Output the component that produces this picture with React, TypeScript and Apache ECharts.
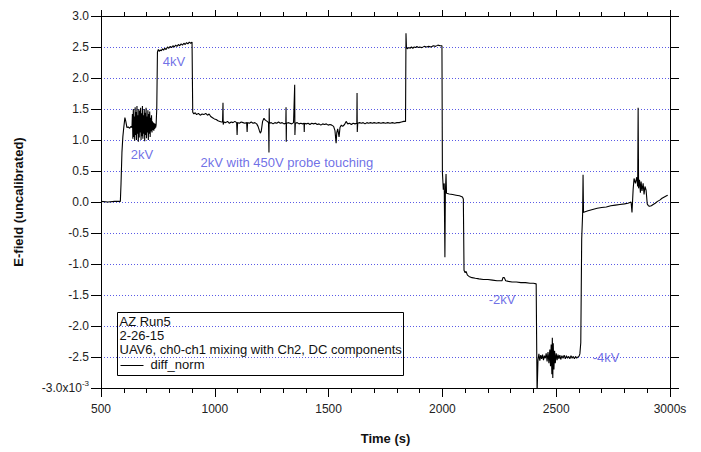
import React, { useEffect, useRef } from "react";
import * as echarts from "echarts";

// ---- Data (time in s, E-field in units of 1e-3, as shown on the axis) ----
const segBaseline: number[][] = [
  [500, 0.01], [530, 0.0], [560, 0.01], [585, 0.01], [588, 0.3], [592, 0.8], [596, 1.05],
  [600, 1.2], [605, 1.36], [609, 1.3], [614, 1.2], [620, 1.21], [626, 1.19], [632, 1.22], [636, 1.2],
];
const seg2kV: number[][] = [
  [638, 1.42], [640, 1.02], [642, 1.5], [644, 1.05], [646, 1.38], [648, 0.99], [650, 1.53], [652, 1.08],
  [654, 1.45], [656, 1.0], [658, 1.55], [660, 1.1], [662, 1.4], [664, 0.97], [666, 1.5], [668, 1.04],
  [670, 1.47], [672, 1.12], [674, 1.52], [676, 1.0], [678, 1.43], [680, 1.06], [682, 1.55], [684, 1.02],
  [686, 1.4], [688, 1.1], [690, 1.5], [692, 0.98], [694, 1.44], [696, 1.08], [698, 1.52], [700, 1.03],
  [702, 1.38], [704, 1.12], [706, 1.48], [708, 1.0], [710, 1.42], [712, 1.1], [714, 1.46], [716, 1.05],
  [718, 1.36], [720, 1.14], [722, 1.4], [724, 1.12], [726, 1.3], [728, 1.16], [730, 1.28], [732, 1.15],
  [734, 1.27], [736, 1.18], [738, 1.26], [740, 1.2], [742, 1.24],
];
const seg4kV: number[][] = [
  [745, 1.5], [748, 2.42], [752, 2.46], [756, 2.43], [760, 2.45], [765, 2.44], [770, 2.47], [775, 2.45],
  [780, 2.48], [786, 2.46], [792, 2.5], [798, 2.48], [804, 2.51], [810, 2.49], [816, 2.52], [822, 2.5],
  [828, 2.53], [834, 2.51], [840, 2.54], [846, 2.52], [852, 2.55], [858, 2.53], [864, 2.56], [870, 2.54],
  [876, 2.57], [882, 2.55], [888, 2.58], [894, 2.56], [900, 2.58],
];
const segProbe: number[][] = [
  [903, 1.45], [908, 1.42], [914, 1.44], [920, 1.41], [928, 1.43], [936, 1.4], [944, 1.42], [952, 1.41],
  [960, 1.43], [968, 1.4], [975, 1.42], [982, 1.38], [990, 1.36], [998, 1.34], [1006, 1.33], [1014, 1.31],
  [1022, 1.3], [1030, 1.29], [1034, 1.29], [1036, 1.6], [1037, 1.25], [1040, 1.29], [1048, 1.28], [1056, 1.3],
  [1064, 1.27], [1072, 1.29], [1080, 1.28], [1088, 1.3], [1096, 1.28], [1098, 1.08], [1100, 1.28], [1108, 1.27],
  [1116, 1.29], [1124, 1.28], [1132, 1.27], [1140, 1.28], [1142, 1.13], [1144, 1.28], [1152, 1.27], [1160, 1.29],
  [1168, 1.27], [1176, 1.28], [1184, 1.26], [1190, 1.22], [1196, 1.15], [1200, 1.11], [1204, 1.14], [1210, 1.3],
  [1216, 1.35], [1222, 1.32], [1230, 1.3], [1236, 1.28], [1238, 0.8], [1239, 1.51], [1240, 1.27], [1248, 1.28],
  [1256, 1.26], [1264, 1.28], [1272, 1.27], [1280, 1.29], [1288, 1.27], [1296, 1.28], [1304, 1.26], [1312, 1.27],
  [1313, 1.53], [1314, 0.97], [1315, 1.27], [1322, 1.28], [1330, 1.27], [1338, 1.26], [1346, 1.28], [1351, 1.89],
  [1352, 1.08], [1354, 1.27], [1362, 1.28], [1370, 1.26], [1378, 1.27], [1386, 1.26], [1392, 1.27], [1393, 1.13],
  [1394, 1.27], [1402, 1.26], [1410, 1.27], [1418, 1.25], [1426, 1.27], [1434, 1.26], [1442, 1.27], [1450, 1.25],
  [1458, 1.26], [1466, 1.24], [1474, 1.26], [1482, 1.25], [1490, 1.26], [1498, 1.24], [1506, 1.25], [1514, 1.24],
  [1522, 1.22], [1528, 1.15], [1533, 0.95], [1536, 1.12], [1540, 1.18], [1546, 1.05], [1550, 1.2], [1556, 1.24],
  [1562, 1.22], [1570, 1.25], [1577, 1.3], [1584, 1.26], [1592, 1.27], [1600, 1.25], [1608, 1.27], [1616, 1.26],
  [1624, 1.27], [1625, 1.76], [1626, 1.13], [1628, 1.27], [1636, 1.28], [1644, 1.27], [1652, 1.28], [1660, 1.26],
  [1668, 1.28], [1676, 1.27], [1684, 1.28], [1692, 1.27], [1700, 1.28], [1710, 1.27], [1720, 1.28], [1730, 1.27],
  [1740, 1.28], [1750, 1.27], [1760, 1.28], [1770, 1.27], [1780, 1.28], [1790, 1.27], [1800, 1.28], [1810, 1.28],
  [1820, 1.29], [1830, 1.3], [1838, 1.3],
];
const seg4kVb: number[][] = [
  [1840, 2.72], [1842, 2.5], [1846, 2.47], [1852, 2.49], [1858, 2.48], [1864, 2.5], [1870, 2.48], [1876, 2.5],
  [1882, 2.49], [1888, 2.51], [1894, 2.49], [1900, 2.5], [1910, 2.49], [1920, 2.51], [1930, 2.5], [1940, 2.51],
  [1950, 2.5], [1960, 2.52], [1970, 2.51], [1980, 2.53], [1990, 2.52], [1998, 2.52],
];
const segZero: number[][] = [
  [2000, 0.48], [2004, 0.2], [2008, 0.3], [2011, -0.89], [2013, 0.15], [2016, 0.45], [2018, 0.14], [2030, 0.13],
  [2045, 0.12], [2060, 0.11], [2075, 0.1], [2088, 0.08], [2092, 0.05],
];
const segMinus2kV: number[][] = [
  [2095, -1.1], [2100, -1.14], [2104, -1.12], [2110, -1.18], [2117, -1.2], [2130, -1.22], [2145, -1.23],
  [2161, -1.24], [2180, -1.25], [2200, -1.25], [2220, -1.26], [2240, -1.27], [2262, -1.27], [2266, -1.22],
  [2272, -1.22], [2278, -1.27], [2290, -1.28], [2306, -1.29], [2325, -1.29], [2345, -1.3], [2365, -1.3],
  [2385, -1.31], [2400, -1.31], [2412, -1.32],
];
const segMinus4kV: number[][] = [
  [2416, -3.1], [2420, -2.55], [2424, -2.45], [2428, -2.56], [2432, -2.47], [2436, -2.53], [2440, -2.46],
  [2444, -2.55], [2448, -2.48], [2452, -2.52], [2456, -2.44], [2460, -2.57], [2464, -2.42], [2468, -2.6],
  [2472, -2.38], [2475, -2.65], [2478, -2.3], [2481, -2.78], [2483, -2.19], [2485, -2.84], [2487, -2.28],
  [2490, -2.7], [2493, -2.4], [2496, -2.6], [2500, -2.44], [2504, -2.55], [2508, -2.46], [2512, -2.53],
  [2516, -2.47], [2520, -2.54], [2525, -2.48], [2530, -2.52], [2535, -2.47], [2540, -2.53], [2545, -2.48],
  [2550, -2.52], [2555, -2.49], [2560, -2.53], [2565, -2.48], [2570, -2.52], [2575, -2.49], [2580, -2.53],
  [2585, -2.49], [2590, -2.52], [2595, -2.5], [2600, -2.49], [2604, -2.45], [2608, -2.27],
];
const segEnd: number[][] = [
  [2612, -0.6], [2616, -0.2], [2618, 0.44], [2620, -0.17], [2624, -0.16], [2640, -0.14], [2660, -0.12],
  [2680, -0.1], [2700, -0.09], [2720, -0.08], [2740, -0.06], [2760, -0.05], [2780, -0.04], [2800, -0.03],
  [2815, -0.02], [2829, 0.0], [2833, -0.17], [2838, 0.2], [2842, 0.38], [2848, 0.3], [2854, 0.4], [2858, 0.25],
  [2860, 1.52], [2862, 0.22], [2866, 0.36], [2870, 0.15], [2873, 0.33], [2877, 0.18], [2882, 0.3], [2886, 0.12],
  [2890, 0.25], [2895, 0.19], [2900, -0.03], [2905, -0.06], [2910, -0.07], [2918, -0.06], [2926, -0.04],
  [2935, -0.02], [2945, 0.01], [2955, 0.03], [2965, 0.06], [2975, 0.08], [2985, 0.1], [2990, 0.11],
];

const annotationTimes = [821, 680, 1317, 2262, 2719];
const annotationValues = [2.27, 0.77, 0.63, -1.58, -2.5];
const annotationTexts = ["4kV", "2kV", "2kV with 450V probe touching", "-2kV", "-4kV"];

const legendLines = ["AZ Run5", "2-26-15", "UAV6, ch0-ch1 mixing with Ch2, DC components"];
const seriesName = "diff_norm";

const FONT = "'Liberation Sans', Arial, sans-serif";

export default function App() {
  const ref = useRef<HTMLDivElement>(null);
  useEffect(() => {
    if (!ref.current) return;
    const chart = echarts.init(ref.current, undefined, { renderer: "svg" });
    const trace = [
      ...segBaseline, ...seg2kV, ...seg4kV, ...segProbe, ...seg4kVb,
      ...segZero, ...segMinus2kV, ...segMinus4kV, ...segEnd,
    ];
    const xCommon = {
      type: "value" as const,
      min: 500,
      max: 3000,
      interval: 500,
      splitLine: { show: false },
      axisLine: { show: true, onZero: false, lineStyle: { color: "#000", width: 1 } },
    };
    const yCommon = {
      type: "value" as const,
      min: -3,
      max: 3,
      interval: 0.5,
      axisLine: { show: true, onZero: false, lineStyle: { color: "#000", width: 1 } },
    };
    chart.setOption({
      animation: false,
      backgroundColor: "#fff",
      grid: { left: 101, right: 31, top: 16, bottom: 64, containLabel: false },
      xAxis: [
        {
          ...xCommon,
          position: "bottom",
          name: "Time (s)",
          nameLocation: "middle",
          nameGap: 44,
          nameTextStyle: { fontFamily: FONT, fontSize: 13, fontWeight: "bold", color: "#111" },
          axisTick: { show: true, inside: false, length: 9, lineStyle: { color: "#000" } },
          minorTick: { show: true, splitNumber: 5, length: 5, lineStyle: { color: "#000" } },
          axisLabel: {
            show: true,
            margin: 15,
            fontFamily: FONT,
            fontSize: 12,
            color: "#222",
            formatter: (v: number) => (v === 3000 ? "3000s" : String(v)),
          },
        },
        {
          ...xCommon,
          position: "top",
          axisTick: { show: true, inside: false, length: 6, lineStyle: { color: "#000" } },
          minorTick: { show: true, splitNumber: 5, length: 4, lineStyle: { color: "#000" } },
          axisLabel: { show: false },
        },
      ],
      yAxis: [
        {
          ...yCommon,
          position: "left",
          name: "E-field (uncalibrated)",
          nameLocation: "middle",
          nameGap: 76,
          nameRotate: 90,
          nameTextStyle: { fontFamily: FONT, fontSize: 13, fontWeight: "bold", color: "#111" },
          axisTick: { show: true, inside: false, length: 10, lineStyle: { color: "#000" } },
          splitLine: {
            show: true,
            lineStyle: { color: "#5a5ae6", type: [1, 2], width: 1 },
          },
          axisLabel: {
            show: true,
            margin: 12,
            fontFamily: FONT,
            fontSize: 12,
            color: "#222",
            formatter: (v: number) => (v === -3 ? "{a|-3.0x10}{sup|-3}" : v.toFixed(1)),
            rich: {
              a: { fontFamily: FONT, fontSize: 12, color: "#222" },
              sup: { fontFamily: FONT, fontSize: 8, color: "#222", padding: [0, 0, 9, 0] },
            },
          },
        },
        {
          ...yCommon,
          position: "right",
          splitLine: { show: false },
          axisTick: { show: true, inside: false, length: 9, lineStyle: { color: "#000" } },
          axisLabel: { show: false },
        },
      ],
      series: [
        {
          name: seriesName,
          type: "line",
          data: trace,
          xAxisIndex: 0,
          yAxisIndex: 0,
          showSymbol: false,
          symbol: "none",
          clip: true,
          lineStyle: { color: "#000", width: 1.1 },
          z: 3,
        },
        {
          name: "annotations",
          type: "scatter",
          xAxisIndex: 0,
          yAxisIndex: 0,
          symbolSize: 0,
          silent: true,
          data: annotationTimes.map((t, i) => ({
            value: [t, annotationValues[i]],
            label: { formatter: annotationTexts[i] },
          })),
          label: {
            show: true,
            position: "inside",
            fontFamily: FONT,
            fontSize: 13,
            color: "#4b4be0",
          },
          z: 4,
        },
      ],
      graphic: [
        {
          type: "group",
          left: 117,
          top: 312,
          z: 100,
          children: [
            {
              type: "rect",
              shape: { x: 0, y: 0, width: 286, height: 63 },
              style: { fill: "#fff", stroke: "#000", lineWidth: 1 },
            },
            ...legendLines.map((txt, i) => ({
              type: "text",
              x: 2,
              y: 2 + i * 14.3,
              style: { text: txt, fontFamily: FONT, fontSize: 13, fill: "#111" },
            })),
            {
              type: "line",
              shape: { x1: 3, y1: 53, x2: 26, y2: 53 },
              style: { stroke: "#000", lineWidth: 1 },
            },
            {
              type: "text",
              x: 33,
              y: 45,
              style: { text: seriesName, fontFamily: FONT, fontSize: 13, fill: "#111" },
            },
          ],
        },
      ],
    });
    return () => chart.dispose();
  }, []);
  return (
    <div
      ref={ref}
      style={{ position: "fixed", left: 0, top: 0, width: 701, height: 452, background: "#fff" }}
    />
  );
}
